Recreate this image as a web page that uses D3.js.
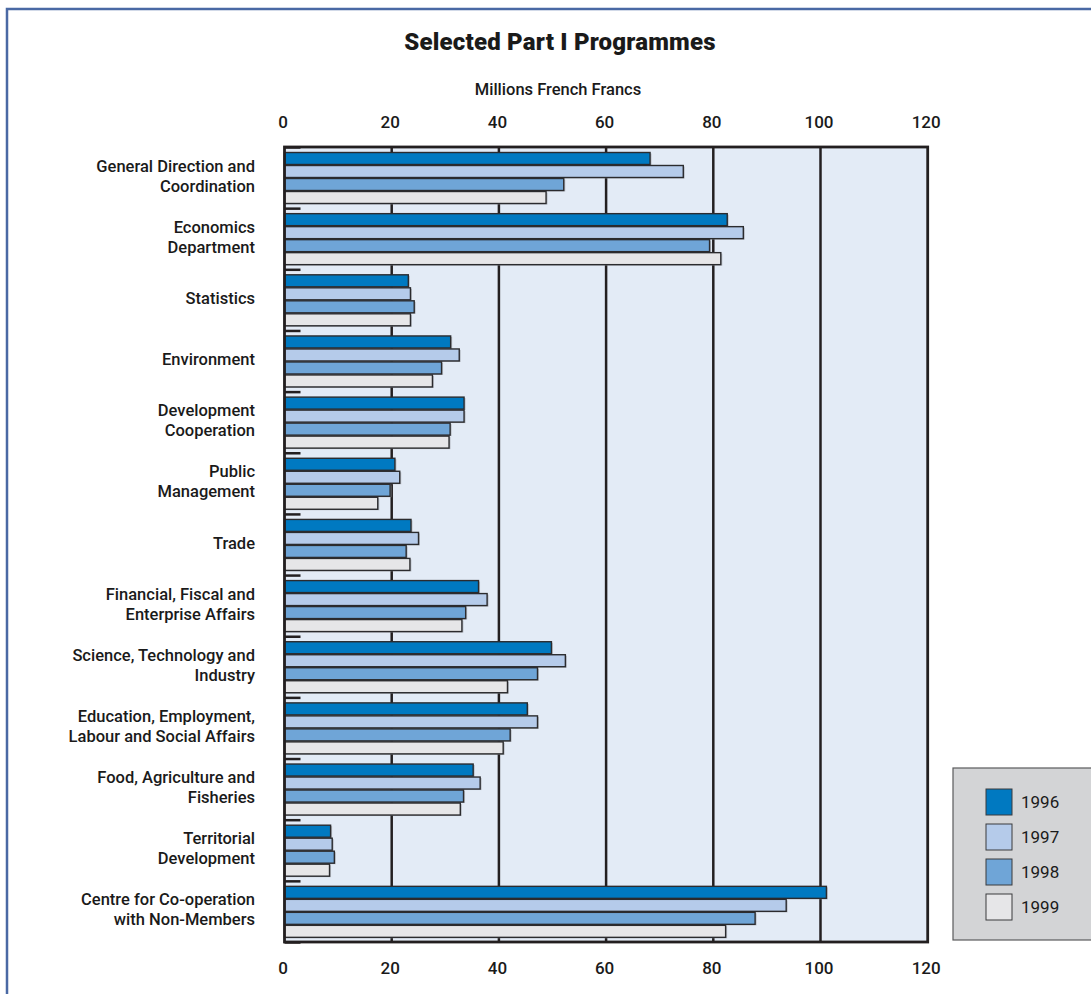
<!DOCTYPE html>
<html>
<head>
<meta charset="utf-8">
<script src="https://cdn.jsdelivr.net/npm/d3@7"></script>
<style>
  body { margin: 0; background: #fff; }
  svg text { font-family: Roboto, "Liberation Sans", sans-serif; font-weight: 500; fill: #1a1a1a; }
</style>
</head>
<body>
<svg></svg>
<script>
var w = 1091, h = 994;

// data
var categories = ["General Direction and|Coordination", "Economics|Department", "Statistics",
  "Environment", "Development|Cooperation", "Public|Management", "Trade",
  "Financial, Fiscal and|Enterprise Affairs", "Science, Technology and|Industry",
  "Education, Employment,|Labour and Social Affairs", "Food, Agriculture and|Fisheries",
  "Territorial|Development", "Centre for Co-operation|with Non-Members"];
var years = ["1996", "1997", "1998", "1999"];
var v1996 = [68.2, 82.6, 23.1, 31.0, 33.5, 20.6, 23.6, 36.2, 49.8, 45.3, 35.2, 8.6, 101.1];
var v1997 = [74.4, 85.6, 23.5, 32.6, 33.5, 21.5, 25.0, 37.8, 52.4, 47.2, 36.5, 8.9, 93.6];
var v1998 = [52.1, 79.3, 24.2, 29.3, 30.9, 19.7, 22.7, 33.8, 47.2, 42.1, 33.4, 9.3, 87.8];
var v1999 = [48.8, 81.4, 23.5, 27.6, 30.7, 17.4, 23.4, 33.1, 41.6, 40.8, 32.8, 8.4, 82.3];
var ticks = [0, 20, 40, 60, 80, 100, 120];

var series = [v1996, v1997, v1998, v1999];
var color = {"1996": "#0079c1", "1997": "#b5cbea", "1998": "#6fa5d7", "1999": "#e6e6e8"};

var svg = d3.select("svg").attr("width", w).attr("height", h);

// page frame (blue rule top and left)
svg.append("path").attr("d", "M7,995 V9 H1092")
  .attr("fill", "none").attr("stroke", "#4a69a4").attr("stroke-width", 2.5);

var x = d3.scaleLinear().domain([0, 120]).range([284.5, 927.7]);
var y = d3.scaleBand().domain(categories).range([147, 942]);
var yInner = d3.scaleBand().domain(years).range([5, 57]);

// titles
svg.append("text").attr("x", 560).attr("y", 50).attr("text-anchor", "middle")
  .style("font-weight", "900").style("font-size", "24px").style("letter-spacing", "0.2px")
  .text("Selected Part I Programmes");
svg.append("text").attr("x", 558).attr("y", 95).attr("text-anchor", "middle")
  .style("font-size", "16.5px").text("Millions French Francs");

// plot background
svg.append("rect").attr("x", x(0)).attr("y", y.range()[0])
  .attr("width", x(120) - x(0)).attr("height", y.range()[1] - y.range()[0])
  .attr("fill", "#e3ebf6");

// gridlines
svg.append("g").selectAll("line").data(ticks.slice(1, -1)).join("line")
  .attr("x1", d => x(d)).attr("x2", d => x(d))
  .attr("y1", y.range()[0]).attr("y2", y.range()[1])
  .attr("stroke", "#231f20").attr("stroke-width", 2.5);

// bars
var groups = svg.append("g").selectAll("g").data(categories).join("g")
  .attr("transform", d => "translate(0," + y(d) + ")");

groups.each(function(c, i) {
  var g = d3.select(this);
  var rows = years.map((yr, j) => ({year: yr, value: series[j][i]}));
  // soft shadow
  g.selectAll("rect.shadow").data(rows).join("rect").attr("class", "shadow")
    .attr("x", x(0)).attr("y", d => yInner(d.year) + 1.5)
    .attr("width", d => x(d.value) - x(0) + 1.5).attr("height", 12)
    .attr("fill", "#9a9ca3").attr("opacity", 0.6);
  g.selectAll("rect.bar").data(rows).join("rect").attr("class", "bar")
    .attr("x", x(0)).attr("y", d => yInner(d.year) + 0.5)
    .attr("width", d => x(d.value) - x(0)).attr("height", 12)
    .attr("fill", d => color[d.year])
    .attr("stroke", "#2b2b2e").attr("stroke-width", 1.4);
});

// small ticks at band boundaries
var bounds = categories.map(c => y(c)).concat([y.range()[1]]);
svg.append("g").selectAll("line").data(bounds).join("line")
  .attr("x1", x(0)).attr("x2", x(0) + 16)
  .attr("y1", d => d + 0.5).attr("y2", d => d + 0.5)
  .attr("stroke", "#231f20").attr("stroke-width", 2.5);

// frame
svg.append("rect").attr("x", x(0)).attr("y", y.range()[0])
  .attr("width", x(120) - x(0)).attr("height", y.range()[1] - y.range()[0])
  .attr("fill", "none").attr("stroke", "#231f20").attr("stroke-width", 2.8);

// axes (labels only)
var axTop = svg.append("g").attr("transform", "translate(-2,128)")
  .call(d3.axisTop(x).tickValues(ticks).tickSize(0).tickPadding(0));
var axBot = svg.append("g").attr("transform", "translate(-2,962)")
  .call(d3.axisBottom(x).tickValues(ticks).tickSize(0).tickPadding(0));
[axTop, axBot].forEach(function(a) {
  a.select(".domain").remove();
  a.selectAll("text").style("font-size", "17px").attr("fill", "#1a1a1a")
    .style("font-family", "Roboto, sans-serif").style("font-weight", "500");
});

// category labels
var lab = svg.append("g").selectAll("text").data(categories).join("text")
  .attr("text-anchor", "end").style("font-size", "16.5px");
lab.each(function(c) {
  var lines = c.split("|");
  var cy = y(c) + y.bandwidth() / 2 + 4;
  var t = d3.select(this);
  lines.forEach(function(l, k) {
    t.append("tspan").attr("x", 255)
      .attr("y", cy + (k - (lines.length - 1) / 2) * 20).text(l);
  });
});

// legend
var leg = svg.append("g").attr("transform", "translate(953,768)");
leg.append("rect").attr("width", 140).attr("height", 172)
  .attr("fill", "#d3d4d6").attr("stroke", "#5a5a5c").attr("stroke-width", 1.2);
var li = leg.selectAll("g").data(years).join("g")
  .attr("transform", (d, i) => "translate(33," + (21 + i * 35) + ")");
li.append("rect").attr("width", 26).attr("height", 26)
  .attr("fill", d => color[d]).attr("stroke", "#3a3a3c").attr("stroke-width", 1);
li.append("text").attr("x", 35).attr("y", 19).style("font-size", "17px")
  .style("font-weight", "400").text(d => d);
</script>
</body>
</html>
